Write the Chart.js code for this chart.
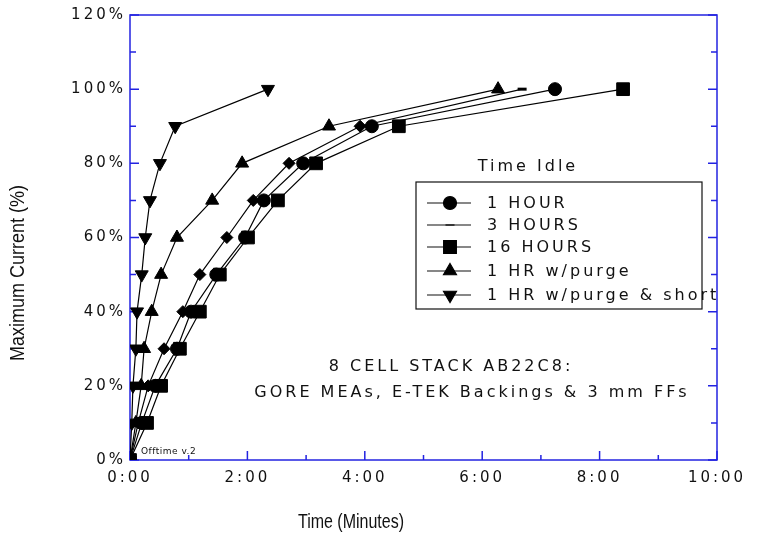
<!DOCTYPE html>
<html>
<head>
<meta charset="utf-8">
<script src="https://cdn.jsdelivr.net/npm/chart.js@4.4.1/dist/chart.umd.min.js"></script>
<style>
html, body { margin: 0; padding: 0; background: #fff; }
#wrap { position: relative; width: 758px; height: 537px; }
</style>
</head>
<body>
<div id="wrap"><canvas id="offtimeChart"></canvas></div>
<script>
// % of maximum current reached
const levels = [0, 10, 20, 30, 40, 50, 60, 70, 80, 90, 100];

// time (minutes) to reach each level
const oneHour = [0, 0.20, 0.43, 0.80, 1.04, 1.47, 1.96, 2.28, 2.95, 4.12, 7.24];
const threeHours = [0, 0.14, 0.31, 0.58, 0.90, 1.19, 1.65, 2.10, 2.71, 3.92, 6.68];
const sixteenHours = [0, 0.29, 0.53, 0.85, 1.19, 1.53, 2.01, 2.52, 3.17, 4.58, 8.40];
const oneHrPurge = [0, 0.10, 0.19, 0.24, 0.37, 0.53, 0.80, 1.40, 1.91, 3.39, 6.27];
const oneHrPurgeShort = [0, 0.03, 0.05, 0.10, 0.12, 0.20, 0.26, 0.34, 0.51, 0.77, 2.35];

const seriesLabels = ['1 HOUR', '3 HOURS', '16 HOURS', '1 HR w/purge', '1 HR w/purge & short'];

const xMax = 10;
const yMax = 120;

const AXIS_BLUE = 'rgb(35,35,225)';
const TICK_FONT = { family: 'DejaVu Sans', size: 15 };

function toPoints(times) {
    return times.map((t, i) => ({ x: t, y: levels[i] }));
}

function fmtMinutes(v) {
    const m = Math.floor(v);
    const s = Math.round((v - m) * 60);
    return m + ':' + (s < 10 ? '0' : '') + s;
}

// frame + inward ticks, like the original plot
const framePlugin = {
    id: 'frame',
    beforeDatasetsDraw(chart) {
        const { ctx, chartArea: a, scales } = chart;
        const x = scales.x, y = scales.y;
        ctx.save();
        ctx.strokeStyle = AXIS_BLUE;
        ctx.lineWidth = 1.5;
        ctx.strokeRect(a.left, a.top, a.right - a.left, a.bottom - a.top);
        ctx.beginPath();
        for (let v = 0; v <= yMax; v += 10) {
            const py = y.getPixelForValue(v);
            const len = v % 20 === 0 ? 9 : 6;
            ctx.moveTo(a.left, py); ctx.lineTo(a.left + len, py);
            ctx.moveTo(a.right, py); ctx.lineTo(a.right - len, py);
        }
        for (let v = 0; v <= xMax; v += 1) {
            const px = x.getPixelForValue(v);
            const len = v % 2 === 0 ? 9 : 5;
            ctx.moveTo(px, a.bottom); ctx.lineTo(px, a.bottom - len);
        }
        ctx.stroke();
        ctx.restore();
    }
};

const spacingPlugin = {
    id: 'spacing',
    beforeDraw(chart) {
        chart.ctx.letterSpacing = '3px';
    }
};

function narrowText(ctx, text, x, y, sx, angle) {
    ctx.save();
    ctx.translate(x, y);
    if (angle) ctx.rotate(angle);
    ctx.scale(sx, 1);
    ctx.fillText(text, 0, 0);
    ctx.restore();
}

// titles, annotations and the boxed legend
const textPlugin = {
    id: 'texts',
    afterDraw(chart) {
        const ctx = chart.ctx;
        ctx.save();
        ctx.fillStyle = '#111';

        ctx.letterSpacing = '0px';
        ctx.font = '20px "Liberation Sans", sans-serif';
        ctx.textAlign = 'center';
        ctx.textBaseline = 'middle';
        narrowText(ctx, 'Time (Minutes)', 351, 522, 0.8, 0);
        narrowText(ctx, 'Maximum Current (%)', 18, 273, 0.9, -Math.PI / 2);

        ctx.letterSpacing = '3px';
        ctx.font = '16px "DejaVu Sans"';
        ctx.fillText('8 CELL STACK AB22C8:', 451, 367);
        ctx.fillText('GORE MEAs, E-TEK Backings & 3 mm FFs', 472, 393);
        ctx.fillText('Time Idle', 528, 167);

        ctx.letterSpacing = '0.5px';
        ctx.font = '9px "DejaVu Sans"';
        ctx.textAlign = 'left';
        ctx.fillText('Offtime v.2', 141, 452);

        // legend box
        ctx.strokeStyle = '#111';
        ctx.lineWidth = 1.2;
        ctx.strokeRect(416, 182, 286, 127);
        ctx.font = '16px "DejaVu Sans"';
        ctx.letterSpacing = '3px';
        const rowY = [203, 225, 247, 271, 295];
        chart.data.datasets.slice().sort((p, q) => p.legendIndex - q.legendIndex).forEach((ds, i) => {
            const yy = rowY[i];
            ctx.beginPath();
            ctx.lineWidth = 1.2;
            ctx.moveTo(427, yy); ctx.lineTo(471, yy);
            ctx.stroke();
            ctx.fillStyle = '#000';
            ctx.strokeStyle = '#000';
            Chart.helpers.drawPoint(ctx, ds.legendMarker, 450, yy);
            ctx.fillStyle = '#111';
            ctx.strokeStyle = '#111';
            ctx.fillText(ds.label, 487, yy + 1);
        });
        ctx.restore();
    }
};

function series(label, times, style, radius, extra) {
    return Object.assign({
        label: label,
        data: toPoints(times),
        borderColor: '#000',
        backgroundColor: '#000',
        borderWidth: 1.2,
        pointStyle: style,
        pointRadius: radius,
        pointHoverRadius: radius,
        pointBackgroundColor: '#000',
        pointBorderColor: '#000',
        pointBorderWidth: 1,
        tension: 0,
        fill: false
    }, extra);
}

const datasets = [
    series(seriesLabels[2], sixteenHours, 'rect', 9, {
        legendIndex: 2, order: 0,
        legendMarker: { pointStyle: 'rect', radius: 9, rotation: 0, borderWidth: 1 }
    }),
    series(seriesLabels[0], oneHour, 'circle', 6.5, {
        legendIndex: 0, order: 1,
        legendMarker: { pointStyle: 'circle', radius: 6.5, rotation: 0, borderWidth: 1 }
    }),
    series(seriesLabels[1], threeHours, 'rectRot', 6, {
        legendIndex: 1, order: 2,
        pointStyle: (c) => c.dataIndex === threeHours.length - 1 ? 'line' : 'rectRot',
        pointBorderWidth: (c) => c.dataIndex === threeHours.length - 1 ? 3 : 1,
        pointRadius: (c) => c.dataIndex === threeHours.length - 1 ? 4.5 : 6,
        legendMarker: { pointStyle: 'line', radius: 4.5, rotation: 0, borderWidth: 3 }
    }),
    series(seriesLabels[3], oneHrPurge, 'triangle', 7.5, {
        legendIndex: 3, order: 3,
        legendMarker: { pointStyle: 'triangle', radius: 7.5, rotation: 0, borderWidth: 1 }
    }),
    series(seriesLabels[4], oneHrPurgeShort, 'triangle', 7.5, {
        legendIndex: 4, order: 4,
        pointRotation: 180,
        legendMarker: { pointStyle: 'triangle', radius: 7.5, rotation: 180, borderWidth: 1 }
    })
];

const chartItem = document.getElementById('offtimeChart');
const chart = new Chart(chartItem, {
    type: 'line',
    data: { datasets: datasets },
    options: {
        responsive: true,
        maintainAspectRatio: false,
        animation: false,
        layout: {
            padding: { top: 15, right: 41, left: 0, bottom: 0 }
        },
        plugins: {
            legend: { display: false },
            tooltip: { enabled: false }
        },
        scales: {
            x: {
                type: 'linear',
                min: 0,
                max: xMax,
                grid: { display: false, drawTicks: false },
                border: { display: false },
                afterFit: (s) => { s.height = 77; },
                ticks: {
                    stepSize: 2,
                    padding: 9,
                    color: '#111',
                    font: TICK_FONT,
                    maxRotation: 0,
                    callback: (v) => fmtMinutes(v)
                }
            },
            y: {
                type: 'linear',
                min: 0,
                max: yMax,
                grid: { display: false, drawTicks: false },
                border: { display: false },
                afterFit: (s) => { s.width = 130; },
                ticks: {
                    stepSize: 20,
                    padding: 4,
                    color: '#111',
                    font: TICK_FONT,
                    callback: (v) => v + '%'
                }
            }
        }
    },
    plugins: [spacingPlugin, framePlugin, textPlugin]
});
</script>
</body>
</html>
